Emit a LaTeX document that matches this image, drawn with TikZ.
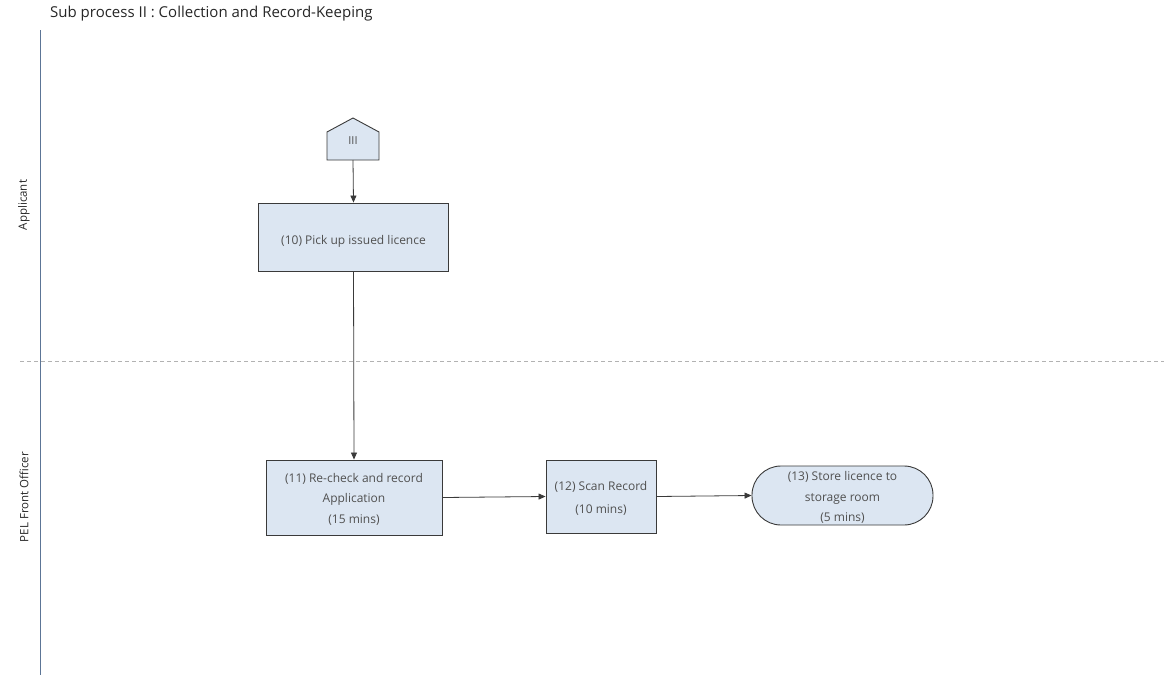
\documentclass[tikz,border=0pt]{standalone}
\usepackage{fontspec}
\setmainfont{Open Sans}
\usetikzlibrary{arrows.meta}
\definecolor{boxfill}{HTML}{DCE6F2}
\definecolor{boxline}{HTML}{3A3A3A}
\definecolor{boxtext}{HTML}{505050}
\definecolor{laneline}{HTML}{5C7596}
\tikzset{
  x=1pt, y=-1pt,
  proc/.style={draw=boxline, fill=boxfill, line width=0.9pt, text=boxtext,
    align=center, inner sep=0pt,
    font={\fontsize{12}{20.5}\selectfont}},
  proctext/.style={text=boxtext, align=center, inner sep=0pt,
    font={\fontsize{12}{20.5}\selectfont}},
  flow/.style={draw=boxline, line width=0.8pt, -{Triangle[length=7pt,width=6pt]}},
  lanelabel/.style={rotate=90, font={\fontsize{11.5}{13}\selectfont}, text=black!85}
}
\begin{document}
\begin{tikzpicture}
\useasboundingbox (0,0) rectangle (1164,675);
% title and swimlanes
\node[anchor=west, inner sep=0pt, font={\fontsize{15}{17}\selectfont}, text=black!85] (title) at (50,14) {Sub process II : Collection and Record-Keeping};
\coordinate (laneTop) at (40,30);
\coordinate (laneBot) at (40,675);
\draw[laneline, line width=0.8pt] (laneTop) -- (laneBot);
\coordinate (sepL) at (20,361);
\coordinate (sepR) at (1164,361);
\draw[black!30, line width=0.8pt, dash pattern=on 4pt off 3pt] (sepL) -- (sepR);
\node[lanelabel] (lane1) at (24,205) {Applicant};
\node[lanelabel] (lane2) at (24,497) {PEL Front Officer};
% off-page connector
\draw[draw=boxline, fill=boxfill, line width=0.9pt]
  (327,160) -- (327,132) -- (353,118) -- (379,132) -- (379,160) -- cycle;
\node[text=boxtext, font={\fontsize{11}{12}\selectfont}] (conn) at (353,141) {III};
\coordinate (connB) at (353,160);
% process steps (labels nudged slightly below the box centre)
\node[proc, minimum width=190pt, minimum height=68pt,
  label={[proctext, yshift=-4pt]center:(10) Pick up issued licence}] (s10) at (353.5,237) {};
\node[proc, minimum width=176pt, minimum height=75pt,
  label={[proctext, yshift=-1.5pt]center:{(11) Re-check and record\\Application\\(15 mins)}}] (s11) at (354,497.5) {};
\node[proc, minimum width=110pt, minimum height=73pt,
  label={[proctext, yshift=-2pt]center:{(12) Scan Record\\[2pt](10 mins)}}] (s12) at (601,496.5) {};
\node[proc, minimum width=181pt, minimum height=59pt, rounded corners=29pt,
  label={[proctext, yshift=-2pt]center:{(13) Store licence to\\storage room\\(5 mins)}}] (s13) at (842.5,495.5) {};
% connectors
\draw[flow] (connB) -- (s10.north);
\draw[flow] (s10.south) -- (s11.north);
\draw[flow] (s11.east) -- (s12.west);
\draw[flow] (s12.east) -- (s13.west);
\end{tikzpicture}
\end{document}
